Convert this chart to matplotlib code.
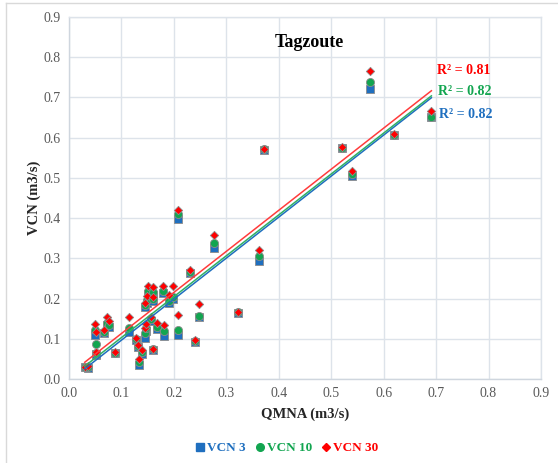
import numpy as np
import matplotlib
matplotlib.use("Agg")
import matplotlib.pyplot as plt
from matplotlib.lines import Line2D

# Data (QMNA vs VCN 3 / 10 / 30, m3/s)
qmna = [0.030, 0.037, 0.049, 0.052, 0.051, 0.066, 0.073, 0.077, 0.088, 0.114,
        0.128, 0.132, 0.133, 0.139, 0.145, 0.148, 0.150, 0.160, 0.161, 0.144,
        0.147, 0.157, 0.161, 0.167, 0.180, 0.182, 0.190, 0.199, 0.207, 0.208,
        0.231, 0.240, 0.248, 0.276, 0.323, 0.362, 0.372, 0.520, 0.539, 0.574,
        0.620, 0.691]
vcn3 = [0.030, 0.028, 0.110, 0.060, 0.062, 0.115, 0.135, 0.130, 0.064, 0.118,
        0.097, 0.080, 0.035, 0.062, 0.180, 0.190, 0.212, 0.195, 0.210, 0.103,
        0.120, 0.145, 0.073, 0.125, 0.215, 0.107, 0.190, 0.200, 0.399, 0.110,
        0.263, 0.091, 0.155, 0.325, 0.165, 0.294, 0.570, 0.574, 0.505, 0.721,
        0.606, 0.651]
vcn10 = [0.030, 0.029, 0.121, 0.088, 0.064, 0.118, 0.140, 0.135, 0.065, 0.128,
         0.099, 0.082, 0.042, 0.066, 0.185, 0.197, 0.220, 0.200, 0.217, 0.115,
         0.128, 0.150, 0.074, 0.130, 0.220, 0.120, 0.195, 0.205, 0.410, 0.122,
         0.265, 0.094, 0.157, 0.339, 0.166, 0.306, 0.571, 0.575, 0.509, 0.739,
         0.607, 0.652]
vcn30 = [0.030, 0.032, 0.136, 0.116, 0.066, 0.122, 0.155, 0.143, 0.066, 0.154,
         0.102, 0.085, 0.050, 0.071, 0.190, 0.207, 0.232, 0.205, 0.228, 0.127,
         0.137, 0.155, 0.075, 0.140, 0.231, 0.135, 0.209, 0.231, 0.420, 0.160,
         0.272, 0.097, 0.187, 0.357, 0.167, 0.320, 0.572, 0.578, 0.518, 0.766,
         0.609, 0.667]

series_names = ["VCN 3", "VCN 10", "VCN 30"]
r2_labels = ["R² = 0.82", "R² = 0.82", "R² = 0.81"]

blue = "#1f6fbf"
green = "#12a550"
red = "#ff0000"
grid_col = "#dde3ea"
tick_col = "#595959"
serif = "Liberation Serif"

fig = plt.figure(figsize=(5.58, 4.63), dpi=100)
ax = fig.add_axes([69 / 558, 1 - 379 / 463, 472 / 558, 362 / 463])

x = np.array(qmna)
styles = [
    (np.array(vcn3), blue, "s", 30),
    (np.array(vcn10), green, "o", 34),
    (np.array(vcn30), red, "D", 18),
]
for y, col, mk, sz in styles:
    ax.scatter(x, y, s=sz, marker=mk, color=col, edgecolors="#8c8c8c",
               linewidths=0.6, zorder=3)

# linear trendlines, drawn on top like Excel does
xs = np.array([x.min(), x.max()])
line_cols = [blue, "#2fb065", "#ff3b3b"]
for (y, _, _, _), col in zip(styles, line_cols):
    slope, icpt = np.polyfit(x, y, 1)
    ax.plot(xs, slope * xs + icpt, color=col, lw=1.1, zorder=4)

# R² labels
ax.text(0.702, 0.767, r2_labels[2], color=red, fontsize=10, fontweight="bold",
        family=serif, va="center")
ax.text(0.703, 0.715, r2_labels[1], color=green, fontsize=10, fontweight="bold",
        family=serif, va="center")
ax.text(0.705, 0.657, r2_labels[0], color=blue, fontsize=10, fontweight="bold",
        family=serif, va="center")

ax.set_xlim(0, 0.9)
ax.set_ylim(0, 0.9)
ax.set_xticks(np.arange(0, 0.91, 0.1))
ax.set_yticks(np.arange(0, 0.91, 0.1))
ax.xaxis.set_major_formatter(matplotlib.ticker.FormatStrFormatter("%.1f"))
ax.yaxis.set_major_formatter(matplotlib.ticker.FormatStrFormatter("%.1f"))
ax.tick_params(length=0, labelsize=10, labelcolor=tick_col, pad=6)
for lab in ax.get_xticklabels() + ax.get_yticklabels():
    lab.set_family(serif)
ax.grid(True, color=grid_col, lw=1.0, zorder=0)
ax.set_axisbelow(True)
for side in ax.spines:
    ax.spines[side].set_color(grid_col)
    ax.spines[side].set_linewidth(1.0)
ax.spines["bottom"].set_color("#cfd6de")
ax.spines["left"].set_color("#cfd6de")

ax.set_xlabel("QMNA (m3/s)", fontsize=10.5, fontweight="bold", family=serif,
              color="#262626", labelpad=5)
ax.set_ylabel("VCN (m3/s)", fontsize=10.5, fontweight="bold", family=serif,
              color="#262626", labelpad=2)
ax.text(0.51, 0.929, "Tagzoute", transform=ax.transAxes, ha="center",
        va="center", fontsize=13, fontweight="bold", family=serif)

# legend at the bottom
handles = [
    Line2D([], [], marker="s", ls="", color=blue, markersize=5.5),
    Line2D([], [], marker="o", ls="", color=green, markersize=5.5),
    Line2D([], [], marker="D", ls="", color=red, markersize=4),
]
leg = fig.legend(handles, series_names, loc="center", ncol=3,
                 bbox_to_anchor=(0.515, 0.032), frameon=False,
                 handlelength=0.6, handletextpad=0.2, columnspacing=0.8,
                 prop={"family": serif, "weight": "bold", "size": 9.5})
for txt, col in zip(leg.get_texts(), [blue, green, red]):
    txt.set_color(col)

# light chart-area border (top and left visible in the reference)
fig.add_artist(Line2D([6 / 558, 1], [1 - 3 / 463, 1 - 3 / 463],
                      transform=fig.transFigure, color="#d9d9d9", lw=1))
fig.add_artist(Line2D([6 / 558, 6 / 558], [0, 1 - 3 / 463],
                      transform=fig.transFigure, color="#d9d9d9", lw=1))

fig.savefig("out.png", dpi=100)
